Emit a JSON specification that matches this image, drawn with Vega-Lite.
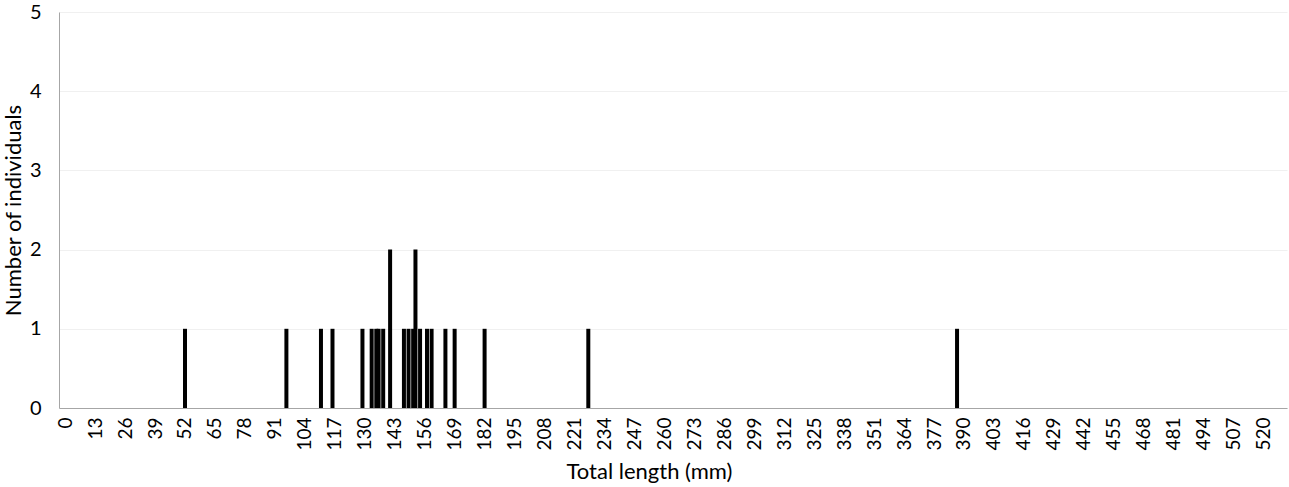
{
  "$schema": "https://vega.github.io/schema/vega-lite/v6.json",
  "width": 1228,
  "height": 396,
  "autosize": "none",
  "padding": {"left": 59, "top": 12, "right": 2, "bottom": 79},
  "background": "white",
  "config": {
    "view": {"stroke": null},
    "font": "Lato",
    "axis": {"labelFont": "Lato", "titleFont": "Lato", "labelColor": "#000", "titleColor": "#000", "titleFontWeight": "normal"}
  },
  "data": {
    "values": [
      {"length": 52, "count": 1},
      {"length": 96, "count": 1},
      {"length": 111, "count": 1},
      {"length": 116, "count": 1},
      {"length": 129, "count": 1},
      {"length": 133, "count": 1},
      {"length": 135, "count": 1},
      {"length": 136, "count": 1},
      {"length": 138, "count": 1},
      {"length": 141, "count": 2},
      {"length": 147, "count": 1},
      {"length": 149, "count": 1},
      {"length": 151, "count": 1},
      {"length": 152, "count": 2},
      {"length": 154, "count": 1},
      {"length": 157, "count": 1},
      {"length": 159, "count": 1},
      {"length": 165, "count": 1},
      {"length": 169, "count": 1},
      {"length": 182, "count": 1},
      {"length": 227, "count": 1},
      {"length": 387, "count": 1}
    ]
  },
  "mark": {"type": "bar", "color": "#000000", "size": 4},
  "encoding": {
    "x": {
      "field": "length",
      "type": "quantitative",
      "scale": {"domain": [-0.5, 528], "nice": false, "zero": false},
      "axis": {
        "title": "Total length (mm)",
        "titleFontSize": 22,
        "titlePadding": 11,
        "titleX": 590,
        "values": [0,13,26,39,52,65,78,91,104,117,130,143,156,169,182,195,208,221,234,247,260,273,286,299,312,325,338,351,364,377,390,403,416,429,442,455,468,481,494,507,520],
        "labelAngle": 270,
        "labelAlign": "right",
        "labelBaseline": "middle",
        "labelFontSize": 19,
        "labelPadding": 9,
        "labelOverlap": false,
        "labelFlush": false,
        "ticks": false,
        "grid": false,
        "domainColor": "#a6a6a6",
        "domainWidth": 1
      }
    },
    "y": {
      "field": "count",
      "type": "quantitative",
      "scale": {"domain": [0, 5], "nice": false},
      "axis": {
        "title": "Number of individuals",
        "titleFontSize": 22,
        "titlePadding": 4,
        "values": [0, 1, 2, 3, 4, 5],
        "labelFontSize": 20,
        "labelPadding": 18,
        "ticks": false,
        "grid": true,
        "gridColor": "#f0f0f0",
        "domainColor": "#a6a6a6",
        "domainWidth": 1
      }
    }
  }
}
